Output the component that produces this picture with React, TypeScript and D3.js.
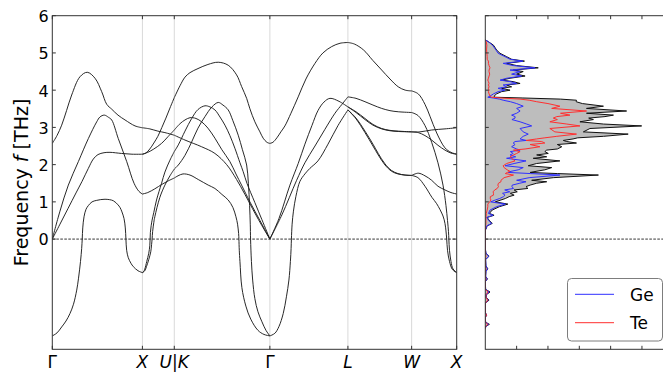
import React from 'react';
import * as d3 from 'd3';

// High-symmetry path (FCC): labels and cumulative path lengths
const kLabels = ['Γ', 'X', 'U|K', 'Γ', 'L', 'W', 'X'];
const kPath = [0, 1, 1.3536, 2.4142, 3.2802, 3.9873, 4.4873];
const freqTicks = [0, 1, 2, 3, 4, 5, 6];
const dosTicks = [1, 2, 3, 4, 5];

// Phonon branches per path segment, as [fraction along segment, frequency THz]
const bandsGX: number[][][] = [
  [[0, 2.57], [0.052, 2.78], [0.104, 3.06], [0.158, 3.45], [0.215, 3.87], [0.307, 4.36], [0.388, 4.48], [0.474, 4.32], [0.548, 3.96], [0.604, 3.62], [0.659, 3.49], [0.729, 3.33], [0.807, 3.2], [0.918, 3.04], [1, 2.99]],
  [[0, 0], [0.085, 0.75], [0.178, 1.45], [0.289, 2.08], [0.4, 2.7], [0.493, 3.15], [0.529, 3.28], [0.577, 3.33], [0.624, 3.27], [0.659, 3.2], [0.732, 2.7], [0.826, 2.08], [0.907, 1.5], [0.962, 1.28], [1, 1.21]],
  [[0, 0], [0.085, 0.4], [0.174, 0.82], [0.263, 1.24], [0.33, 1.55], [0.4, 1.9], [0.455, 2.15], [0.507, 2.27], [0.574, 2.32], [0.64, 2.33], [0.77, 2.3], [0.884, 2.28], [1, 2.28]],
  [[0, -2.6], [0.052, -2.52], [0.104, -2.36], [0.152, -2.2], [0.196, -2.0], [0.235, -1.75], [0.271, -1.37], [0.291, -1.05], [0.313, -0.6], [0.326, -0.25], [0.332, 0], [0.338, 0.3], [0.352, 0.6], [0.374, 0.8], [0.4, 0.9], [0.441, 1.0], [0.493, 1.04], [0.585, 1.07], [0.677, 1.03], [0.729, 0.92], [0.751, 0.85], [0.773, 0.73], [0.796, 0.55], [0.81, 0.3], [0.817, 0], [0.825, -0.3], [0.843, -0.5], [0.873, -0.65], [0.899, -0.74], [0.951, -0.85], [1, -0.9]],
];

const bandsXU: number[][][] = [
  [[0, 2.99], [0.231, 2.96], [0.484, 2.9], [0.706, 2.86], [1, 2.79]],
  [[0, 2.28], [0.104, 2.31], [0.231, 2.42], [0.358, 2.58], [0.484, 2.76], [0.611, 3.0], [0.737, 3.25], [0.864, 3.52], [1, 3.8]],
  [[0, 2.28], [0.168, 2.33], [0.358, 2.42], [0.601, 2.57], [0.801, 2.75], [1, 2.93]],
  [[0, 1.21], [0.168, 1.25], [0.389, 1.35], [0.611, 1.47], [0.801, 1.56], [1, 1.64]],
  [[0, -0.9], [0.041, -0.87], [0.073, -0.81], [0.136, -0.6], [0.199, -0.38], [0.231, -0.18], [0.241, 0], [0.25, 0.18], [0.275, 0.36], [0.304, 0.51], [0.358, 0.72], [0.443, 1.05], [0.601, 1.5], [0.706, 1.8], [0.864, 2.12], [1, 2.35]],
  [[0, -0.9], [0.073, -0.85], [0.127, -0.74], [0.199, -0.55], [0.262, -0.34], [0.287, -0.15], [0.304, 0], [0.32, 0.2], [0.358, 0.45], [0.389, 0.6], [0.547, 1.12], [0.706, 1.45], [0.864, 1.7], [1, 1.88]],
];

const bandsKG: number[][][] = [
  [[0, 3.8], [0.06, 4.12], [0.112, 4.35], [0.164, 4.47], [0.248, 4.58], [0.352, 4.69], [0.46, 4.75], [0.564, 4.67], [0.652, 4.41], [0.704, 4.1], [0.757, 3.78], [0.791, 3.5], [0.843, 3.15], [0.896, 2.88], [0.93, 2.71], [0.969, 2.6], [1, 2.57]],
  [[0, 2.93], [0.06, 3.1], [0.112, 3.2], [0.164, 3.26], [0.227, 3.24], [0.286, 3.15], [0.352, 2.98], [0.425, 2.71], [0.498, 2.4], [0.582, 2.08], [0.645, 1.75], [0.704, 1.45], [0.791, 1.0], [0.896, 0.5], [1, 0]],
  [[0, 2.79], [0.112, 2.66], [0.286, 2.48], [0.425, 2.3], [0.548, 2.0], [0.652, 1.6], [0.739, 1.2], [0.843, 0.7], [0.917, 0.36], [1, 0]],
  [[0, 2.35], [0.042, 2.53], [0.112, 2.9], [0.182, 3.24], [0.248, 3.48], [0.321, 3.58], [0.373, 3.55], [0.425, 3.47], [0.478, 3.28], [0.53, 3.06], [0.582, 2.78], [0.634, 2.44], [0.687, 2.05], [0.721, 1.81], [0.76, 1.5], [0.843, 0.98], [0.917, 0.52], [1, 0]],
  [[0, 1.88], [0.042, 1.99], [0.112, 2.25], [0.182, 2.61], [0.248, 2.98], [0.321, 3.29], [0.394, 3.55], [0.46, 3.67], [0.509, 3.6], [0.564, 3.47], [0.613, 3.18], [0.669, 2.79], [0.713, 2.4], [0.757, 1.99], [0.775, 1.5], [0.788, 0.9], [0.795, 0.4], [0.798, 0], [0.807, -0.6], [0.82, -1.1], [0.843, -1.6], [0.875, -1.95], [0.917, -2.22], [0.959, -2.45], [1, -2.6]],
  [[0, 1.64], [0.039, 1.7], [0.091, 1.75], [0.164, 1.72], [0.251, 1.6], [0.355, 1.45], [0.425, 1.36], [0.498, 1.2], [0.564, 1.05], [0.613, 0.85], [0.645, 0.6], [0.662, 0.4], [0.673, 0.15], [0.676, 0], [0.68, -0.3], [0.687, -0.6], [0.707, -1.3], [0.749, -1.8], [0.8, -2.15], [0.875, -2.45], [0.938, -2.56], [1, -2.6]],
];

const bandsGL: number[][][] = [
  [[0, 2.57], [0.039, 2.6], [0.09, 2.72], [0.141, 2.88], [0.193, 3.04], [0.27, 3.38], [0.363, 3.82], [0.462, 4.3], [0.578, 4.72], [0.68, 5.0], [0.792, 5.17], [0.899, 5.26], [1, 5.28]],
  [[0, 0], [0.116, 0.55], [0.257, 1.45], [0.363, 2.03], [0.449, 2.55], [0.539, 3.05], [0.616, 3.45], [0.693, 3.68], [0.77, 3.78], [0.886, 3.7], [1, 3.55]],
  [[0, 0], [0.154, 0.65], [0.343, 1.58], [0.449, 2.05], [0.578, 2.5], [0.706, 2.95], [0.834, 3.38], [0.924, 3.62], [1, 3.82]],
  [[0, -2.6], [0.064, -2.53], [0.116, -2.35], [0.171, -2.0], [0.212, -1.55], [0.244, -1.1], [0.263, -0.6], [0.272, -0.25], [0.276, 0], [0.285, 0.4], [0.302, 0.75], [0.334, 1.15], [0.385, 1.55], [0.449, 1.75], [0.513, 1.9], [0.616, 2.1], [0.745, 2.55], [0.873, 3.05], [1, 3.47]],
];

const bandsLW: number[][][] = [
  [[0, 5.28], [0.1, 5.24], [0.245, 5.08], [0.39, 4.8], [0.53, 4.54], [0.66, 4.3], [0.79, 4.09], [0.9, 4.0], [1, 3.98]],
  [[0, 3.82], [0.127, 3.78], [0.268, 3.69], [0.393, 3.6], [0.53, 3.51], [0.66, 3.45], [0.79, 3.42], [1, 3.4]],
  [[0, 3.55], [0.127, 3.42], [0.268, 3.24], [0.393, 3.08], [0.53, 2.97], [0.66, 2.92], [0.79, 2.9], [1, 2.88]],
  [[0, 3.55], [0.127, 3.4], [0.268, 3.21], [0.393, 3.06], [0.53, 2.96], [0.66, 2.91], [0.79, 2.89], [1, 2.88]],
  [[0, 3.47], [0.127, 3.25], [0.268, 2.9], [0.393, 2.55], [0.476, 2.3], [0.582, 2.02], [0.687, 1.84], [0.785, 1.76], [0.895, 1.72], [1, 1.71]],
  [[0, 3.47], [0.127, 3.23], [0.268, 2.86], [0.393, 2.5], [0.476, 2.26], [0.582, 1.99], [0.687, 1.82], [0.785, 1.75], [0.895, 1.72], [1, 1.71]],
];

const bandsWX: number[][][] = [
  [[0, 3.98], [0.147, 3.9], [0.296, 3.62], [0.407, 3.3], [0.556, 2.85], [0.74, 2.45], [0.873, 2.33], [1, 2.28]],
  [[0, 3.4], [0.14, 3.32], [0.296, 3.05], [0.444, 2.6], [0.584, 2.05], [0.696, 1.45], [0.762, 0.9], [0.796, 0.5], [0.818, 0.2], [0.826, 0], [0.84, -0.3], [0.873, -0.6], [0.918, -0.8], [1, -0.9]],
  [[0, 2.88], [0.184, 2.88], [0.444, 2.93], [0.74, 2.96], [1, 2.99]],
  [[0, 2.88], [0.147, 2.86], [0.296, 2.78], [0.444, 2.66], [0.584, 2.52], [0.74, 2.39], [0.873, 2.31], [1, 2.28]],
  [[0, 1.71], [0.14, 1.65], [0.296, 1.42], [0.451, 1.12], [0.556, 0.95], [0.696, 0.62], [0.74, 0.42], [0.762, 0.22], [0.778, 0], [0.796, -0.3], [0.84, -0.6], [0.907, -0.82], [1, -0.9]],
  [[0, 1.71], [0.147, 1.77], [0.296, 1.7], [0.444, 1.58], [0.584, 1.42], [0.74, 1.32], [0.873, 1.25], [1, 1.21]],
];

const segments = [bandsGX, bandsXU, bandsKG, bandsGL, bandsLW, bandsWX];

// Phonon density of states (states/THz) on a common frequency grid
const dosFreq = [
  -2.40, -2.34, -2.29, -2.23, -2.10, -2.04, -1.98, -1.72, -1.64, -1.57,
  -1.49, -1.42, -1.35, -1.14, -1.07, -1.00, -0.87, -0.80, -0.72, -0.55,
  -0.46, -0.38, -0.25, 0.24, 0.30, 0.35, 0.42, 0.51, 0.58, 0.64,
  0.69, 0.78, 0.87, 0.94, 1.00, 1.05, 1.09, 1.14, 1.18, 1.23,
  1.27, 1.32, 1.36, 1.41, 1.45, 1.50, 1.54, 1.58, 1.65, 1.72,
  1.76, 1.79, 1.82, 1.86, 1.92, 1.97, 2.03, 2.10, 2.17, 2.21,
  2.26, 2.30, 2.35, 2.39, 2.42, 2.48, 2.54, 2.58, 2.62, 2.65,
  2.69, 2.72, 2.76, 2.82, 2.88, 2.97, 3.04, 3.09, 3.15, 3.21,
  3.25, 3.29, 3.33, 3.38, 3.44, 3.51, 3.57, 3.64, 3.69, 3.73,
  3.76, 3.79, 3.81, 3.84, 3.90, 3.96, 4.00, 4.05, 4.09, 4.14,
  4.18, 4.23, 4.27, 4.32, 4.38, 4.43, 4.50, 4.54, 4.60, 4.66,
  4.72, 4.78, 4.83, 4.90, 4.99, 5.08, 5.21, 5.30, 5.35,
];
const dosTotal = [
  0, 0.02, 0.13, 0.01, 0, 0.05, 0, 0, 0.12, 0.03,
  0.04, 0.15, 0.01, 0, 0.07, 0.01, 0.02, 0.08, 0.02, 0.01,
  0.12, 0.02, 0, 0, 0.04, 0.05, 0.22, 0.12, 0.06, 0.28,
  0.13, 0.22, 0.45, 0.72, 0.32, 0.50, 0.64, 0.76, 0.92, 0.80,
  1.02, 0.92, 1.36, 1.30, 1.43, 1.64, 1.96, 1.48, 2.17, 3.61,
  2.30, 1.43, 1.62, 1.90, 2.12, 1.37, 1.64, 2.38, 1.53, 1.96,
  1.64, 2.01, 1.90, 1.96, 2.30, 2.44, 2.30, 2.91, 2.60, 2.49,
  2.80, 2.95, 3.77, 4.56, 3.13, 3.34, 4.99, 3.77, 3.02, 3.45,
  3.30, 3.82, 4.09, 3.23, 4.51, 3.23, 3.77, 3.10, 2.90, 2.91,
  2.40, 1.20, 0.30, 0.28, 0.36, 0.52, 0.79, 0.52, 0.84, 0.68,
  1.11, 0.89, 0.52, 0.79, 1.27, 1.00, 1.21, 0.89, 1.69, 1.00,
  0.68, 1.25, 0.84, 0.68, 0.47, 0.36, 0.26, 0.10, 0,
];
const dosGe = [
  0, 0.02, 0.10, 0.01, 0, 0.04, 0, 0, 0.10, 0.02,
  0.03, 0.12, 0.01, 0, 0.06, 0.01, 0.02, 0.07, 0.02, 0.01,
  0.11, 0.02, 0, 0, 0.03, 0.04, 0.20, 0.10, 0.04, 0.25,
  0.10, 0.15, 0.36, 0.64, 0.17, 0.32, 0.46, 0.58, 0.63, 0.55,
  0.78, 0.62, 0.90, 0.85, 0.86, 1.10, 1.30, 1.00, 1.40, 2.38,
  1.45, 0.73, 0.82, 1.05, 1.21, 0.63, 0.92, 1.30, 0.68, 0.97,
  0.79, 0.89, 0.80, 1.11, 1.00, 0.84, 0.95, 0.89, 0.95, 1.30,
  1.11, 1.15, 1.21, 1.37, 1.21, 1.11, 1.48, 1.32, 1.11, 0.85,
  0.95, 0.95, 0.84, 1.00, 1.11, 1.00, 1.21, 1.00, 0.80, 0.57,
  0.45, 0.25, 0.08, 0.15, 0.26, 0.41, 0.63, 0.41, 0.68, 0.57,
  1.00, 0.79, 0.47, 0.68, 1.16, 0.84, 1.11, 0.79, 1.59, 0.89,
  0.57, 1.20, 0.79, 0.63, 0.41, 0.34, 0.23, 0.10, 0,
];
const dosTe = [
  0, 0.01, 0.08, 0, 0, 0.04, 0, 0, 0.08, 0.02,
  0.02, 0.09, 0, 0, 0.02, 0, 0, 0.02, 0, 0,
  0.02, 0, 0, 0, 0.01, 0.01, 0.02, 0.02, 0.02, 0.03,
  0.03, 0.06, 0.08, 0.08, 0.14, 0.18, 0.16, 0.16, 0.26, 0.26,
  0.25, 0.30, 0.38, 0.42, 0.40, 0.42, 0.50, 0.50, 0.60, 0.90,
  0.64, 0.70, 0.79, 0.70, 0.60, 0.57, 0.68, 0.95, 0.84, 0.79,
  0.90, 1.00, 1.11, 0.90, 1.27, 1.74, 1.43, 1.90, 1.80, 1.30,
  1.64, 1.90, 2.28, 2.91, 2.22, 2.06, 3.02, 2.60, 2.06, 2.30,
  2.17, 2.28, 2.70, 2.40, 3.23, 2.12, 2.38, 2.00, 1.64, 1.40,
  1.11, 0.50, 0.20, 0.15, 0.12, 0.10, 0.12, 0.10, 0.12, 0.10,
  0.12, 0.10, 0.08, 0.10, 0.12, 0.14, 0.12, 0.12, 0.15, 0.12,
  0.10, 0.10, 0.06, 0.06, 0.05, 0.04, 0.05, 0.03, 0,
];

const legendItems = [
  { name: 'Ge', color: '#2f2fff' },
  { name: 'Te', color: '#ff2f2f' },
];

const FONT = 'DejaVu Sans, sans-serif';

export default function App() {
  const width = 663;
  const height = 373;
  const bandBox = { left: 52.3, right: 456.7, top: 15.7, bottom: 349.3 };
  const dosBox = { left: 485.3, right: 673.3 };

  const kScale = d3.scaleLinear().domain([0, kPath[kPath.length - 1]]).range([bandBox.left, bandBox.right]);
  const fScale = d3.scaleLinear().domain([-2.96, 6]).range([bandBox.bottom, bandBox.top]);
  const dScale = d3.scaleLinear().domain([0, 6]).range([dosBox.left, dosBox.right]);

  const smooth = d3
    .line<number[]>()
    .x((p) => p[0])
    .y((p) => p[1])
    .curve(d3.curveCatmullRom.alpha(0.5));

  const branchPaths: React.ReactNode[] = [];
  segments.forEach((seg, s) => {
    const along = d3.scaleLinear().domain([0, 1]).range([kPath[s], kPath[s + 1]]);
    seg.forEach((branch, b) => {
      const pts = branch.map(([t, f]) => [kScale(along(t)), fScale(f)]);
      branchPaths.push(
        <path key={`b${s}-${b}`} d={smooth(pts) || ''} fill="none" stroke="#1c1c1c" strokeWidth={0.95} />
      );
    });
  });

  const idx = d3.range(dosFreq.length);
  const dosArea = d3
    .area<number>()
    .y((i) => fScale(dosFreq[i]))
    .x0(() => dScale(0))
    .x1((i) => dScale(dosTotal[i]));
  const dosLine = (vals: number[]) =>
    d3
      .line<number>()
      .x((i) => dScale(vals[i]))
      .y((i) => fScale(dosFreq[i]))(idx) || '';

  const zeroY = fScale(0);
  const tickLen = 3.5;
  const spine = '#333';
  const innerK = kPath.slice(1, -1);

  return (
    <svg
      width={width}
      height={height}
      style={{ position: 'absolute', left: 0, top: 0, background: '#fff' }}
      fontFamily={FONT}
    >
      <rect x={0} y={0} width={width} height={height} fill="#fff" />
      <defs>
        <clipPath id="bandClip">
          <rect x={bandBox.left} y={bandBox.top} width={bandBox.right - bandBox.left} height={bandBox.bottom - bandBox.top} />
        </clipPath>
        <clipPath id="dosClip">
          <rect x={dosBox.left} y={bandBox.top} width={dosBox.right - dosBox.left} height={bandBox.bottom - bandBox.top} />
        </clipPath>
      </defs>

      {/* vertical guides at high-symmetry points */}
      {innerK.map((k, i) => (
        <line key={`g${i}`} x1={kScale(k)} x2={kScale(k)} y1={bandBox.top} y2={bandBox.bottom} stroke="#d9d9d9" strokeWidth={1} />
      ))}

      {/* zero-frequency reference */}
      <line x1={bandBox.left} x2={bandBox.right} y1={zeroY} y2={zeroY} stroke="#000" strokeWidth={0.8} strokeDasharray="2.6,1.4" />

      <g clipPath="url(#bandClip)">{branchPaths}</g>

      {/* band panel frame */}
      <rect x={bandBox.left} y={bandBox.top} width={bandBox.right - bandBox.left} height={bandBox.bottom - bandBox.top} fill="none" stroke={spine} strokeWidth={1} />

      {/* frequency ticks: inward on both sides */}
      {freqTicks.map((v) => (
        <g key={`ft${v}`}>
          <line x1={bandBox.left} x2={bandBox.left + tickLen} y1={fScale(v)} y2={fScale(v)} stroke={spine} strokeWidth={1} />
          <line x1={bandBox.right} x2={bandBox.right - tickLen} y1={fScale(v)} y2={fScale(v)} stroke={spine} strokeWidth={1} />
          <text x={bandBox.left - 3.5} y={fScale(v)} dy="0.4em" textAnchor="end" fontSize={16} fill="#000">
            {v}
          </text>
        </g>
      ))}

      {/* high-symmetry ticks and labels */}
      {kPath.map((k, i) => (
        <g key={`kt${i}`}>
          <line x1={kScale(k)} x2={kScale(k)} y1={bandBox.bottom} y2={bandBox.bottom - tickLen} stroke={spine} strokeWidth={1} />
          <line x1={kScale(k)} x2={kScale(k)} y1={bandBox.top} y2={bandBox.top + tickLen} stroke={spine} strokeWidth={1} />
          <text x={kScale(k)} y={367.5} textAnchor="middle" fontSize={17} fill="#000">
            {kLabels[i] === 'Γ' ? (
              'Γ'
            ) : kLabels[i] === 'U|K' ? (
              <>
                <tspan fontStyle="italic">U</tspan>
                <tspan>|</tspan>
                <tspan fontStyle="italic">K</tspan>
              </>
            ) : (
              <tspan fontStyle="italic">{kLabels[i]}</tspan>
            )}
          </text>
        </g>
      ))}

      <text transform={`translate(27.5,${(bandBox.top + bandBox.bottom) / 2}) rotate(-90)`} textAnchor="middle" fontSize={19} fill="#000">
        Frequency <tspan fontStyle="italic">f</tspan> [THz]
      </text>

      {/* density of states panel */}
      <line x1={dosBox.left} x2={width} y1={zeroY} y2={zeroY} stroke="#000" strokeWidth={0.8} strokeDasharray="2.6,1.4" />
      <g clipPath="url(#dosClip)">
        <path d={dosArea(idx) || ''} fill="#bdbdbd" stroke="none" />
        <path d={dosLine(dosTotal)} fill="none" stroke="#111" strokeWidth={1} />
        <path d={dosLine(dosGe)} fill="none" stroke={legendItems[0].color} strokeWidth={1} />
        <path d={dosLine(dosTe)} fill="none" stroke={legendItems[1].color} strokeWidth={1} />
      </g>
      <rect x={dosBox.left} y={bandBox.top} width={dosBox.right - dosBox.left} height={bandBox.bottom - bandBox.top} fill="none" stroke={spine} strokeWidth={1} />
      {freqTicks.map((v) => (
        <line key={`dft${v}`} x1={dosBox.left} x2={dosBox.left + tickLen} y1={fScale(v)} y2={fScale(v)} stroke={spine} strokeWidth={1} />
      ))}
      {dosTicks.map((v) => (
        <g key={`ddt${v}`}>
          <line x1={dScale(v)} x2={dScale(v)} y1={bandBox.top} y2={bandBox.top + tickLen} stroke={spine} strokeWidth={1} />
          <line x1={dScale(v)} x2={dScale(v)} y1={bandBox.bottom} y2={bandBox.bottom - tickLen} stroke={spine} strokeWidth={1} />
        </g>
      ))}

      {/* legend */}
      <rect x={567.5} y={278.5} width={95} height={62.5} rx={4} ry={4} fill="#fff" fillOpacity={0.9} stroke="#7d7d7d" strokeWidth={1} />
      {legendItems.map((item, i) => (
        <g key={item.name}>
          <line x1={575} x2={614} y1={294.3 + i * 28.4} y2={294.3 + i * 28.4} stroke={item.color} strokeWidth={1} />
          <text x={630} y={300.7 + i * 28.4} fontSize={17} fill="#000">
            {item.name}
          </text>
        </g>
      ))}
    </svg>
  );
}
